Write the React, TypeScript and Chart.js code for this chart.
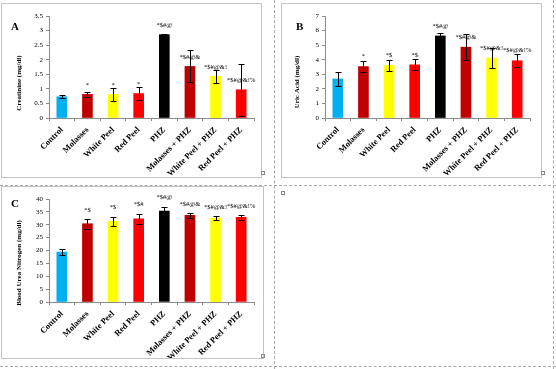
import React, { useEffect, useRef } from "react";
import { Chart, registerables } from "chart.js";

Chart.register(...registerables);

// ---------- data ----------
const categories = [
  "Control",
  "Molasses",
  "White Peel",
  "Red Peel",
  "PHZ",
  "Molasses + PHZ",
  "White Peel + PHZ",
  "Red Peel + PHZ",
];
const barColors = ["#00B0F0", "#C00000", "#FFFF00", "#FF0000", "#000000", "#C00000", "#FFFF00", "#FF0000"];

const creatinineMeans = [0.73, 0.81, 0.81, 0.84, 2.86, 1.77, 1.43, 0.97];
const creatinineErrors = [0.06, 0.09, 0.22, 0.23, 0.01, 0.55, 0.23, 0.9];
const creatinineMarks = ["", "*", "*", "*", "*$#@", "*$#@&", "*$#@&!", "*$#@&!%"];

const uricMeans = [2.68, 3.53, 3.6, 3.65, 5.63, 4.86, 4.12, 3.93];
const uricErrors = [0.47, 0.36, 0.37, 0.37, 0.23, 0.88, 0.66, 0.43];
const uricMarks = ["", "*", "*$", "*$", "*$#@", "*$#@&", "*$#@&!", "*$#@&!%"];

const bunMeans = [19.4, 30.4, 31.3, 32.3, 35.3, 33.7, 32.6, 32.9];
const bunErrors = [1.1, 1.9, 1.9, 2.0, 1.7, 0.9, 0.8, 0.9];
const bunMarks = ["", "*$", "*$", "*$#", "*$#@", "*$#@&", "*$#@&!", "*$#@&!%"];

const SERIF = "'Liberation Serif', 'Times New Roman', serif";
const AXIS_GRAY = "#8c8c8c";

type PanelProps = {
  left: number;
  top: number;
  width: number;
  height: number;
  yAxisWidth: number;
  padTop: number;
  padRight: number;
  xAxisHeight: number;
  max: number;
  step: number;
  means: number[];
  errors: number[];
  marks: string[];
  title: string;
  titleX: number;
  titleY: number;
  markFromError: boolean;
  markOffset: number;
};

function Panel(p: PanelProps) {
  const ref = useRef<HTMLCanvasElement | null>(null);

  useEffect(() => {
    const canvas = ref.current;
    if (!canvas) return;

    const errorBarPlugin = {
      id: "errorBars",
      afterDatasetsDraw(chart: any) {
        const ctx = chart.ctx;
        const ys = chart.scales.y;
        const meta = chart.getDatasetMeta(0);
        ctx.save();
        ctx.strokeStyle = "#000";
        ctx.lineWidth = 1;
        meta.data.forEach((bar: any, i: number) => {
          const x = Math.round(bar.x) + 0.5;
          const yHi = Math.round(ys.getPixelForValue(p.means[i] + p.errors[i])) + 0.5;
          const yLo = Math.round(ys.getPixelForValue(p.means[i] - p.errors[i])) + 0.5;
          ctx.beginPath();
          ctx.moveTo(x, yHi);
          ctx.lineTo(x, yLo);
          ctx.moveTo(x - 3, yHi);
          ctx.lineTo(x + 3, yHi);
          ctx.moveTo(x - 3, yLo);
          ctx.lineTo(x + 3, yLo);
          ctx.stroke();
        });
        ctx.restore();
      },
    };

    const marksPlugin = {
      id: "sigMarks",
      afterDatasetsDraw(chart: any) {
        const ctx = chart.ctx;
        const ys = chart.scales.y;
        const meta = chart.getDatasetMeta(0);
        ctx.save();
        ctx.fillStyle = "#000";
        ctx.font = `6.5px ${SERIF}`;
        ctx.textAlign = "center";
        ctx.textBaseline = "middle";
        meta.data.forEach((bar: any, i: number) => {
          const txt = p.marks[i];
          if (!txt) return;
          const anchor = p.markFromError ? ys.getPixelForValue(p.means[i] + p.errors[i]) : bar.y;
          ctx.fillText(txt, bar.x, anchor - p.markOffset);
        });
        ctx.restore();
      },
    };

    const titlePlugin = {
      id: "yTitle",
      afterDraw(chart: any) {
        const ctx = chart.ctx;
        ctx.save();
        ctx.translate(p.titleX, p.titleY);
        ctx.rotate(-Math.PI / 2);
        ctx.fillStyle = "#000";
        ctx.font = `bold 7px ${SERIF}`;
        ctx.textAlign = "center";
        ctx.textBaseline = "middle";
        ctx.fillText(p.title, 0, 0);
        ctx.restore();
      },
    };

    const chart = new Chart(canvas, {
      type: "bar",
      data: {
        labels: categories,
        datasets: [
          {
            data: p.means,
            backgroundColor: barColors,
            borderWidth: 0,
            barThickness: 10,
          },
        ],
      },
      options: {
        animation: false,
        responsive: false,
        maintainAspectRatio: false,
        devicePixelRatio: 1,
        layout: { padding: { top: p.padTop, right: p.padRight, left: 0, bottom: 0 } },
        plugins: {
          legend: { display: false },
          tooltip: { enabled: false },
          title: { display: false },
        },
        scales: {
          x: {
            grid: {
              display: true,
              drawOnChartArea: false,
              drawTicks: true,
              tickLength: 3,
              color: AXIS_GRAY,
              offset: true,
            },
            border: { color: AXIS_GRAY },
            ticks: {
              autoSkip: false,
              maxRotation: 45,
              minRotation: 45,
              padding: 4,
              color: "#000",
              font: { family: SERIF, size: 8.5, weight: "bold" },
            },
            afterFit: (s: any) => {
              s.height = p.xAxisHeight;
            },
          },
          y: {
            min: 0,
            max: p.max,
            grid: {
              drawOnChartArea: false,
              drawTicks: true,
              tickLength: 3,
              color: AXIS_GRAY,
            },
            border: { color: AXIS_GRAY },
            ticks: {
              stepSize: p.step,
              padding: 3,
              color: "#000",
              font: { family: SERIF, size: 7 },
              callback: (v: any) => String(Number(v)),
            },
            afterFit: (s: any) => {
              s.width = p.yAxisWidth;
            },
          },
        },
      },
      plugins: [errorBarPlugin, marksPlugin, titlePlugin],
    } as any);

    return () => chart.destroy();
  }, []);

  return (
    <canvas
      ref={ref}
      width={p.width}
      height={p.height}
      style={{ position: "absolute", left: p.left, top: p.top, width: p.width, height: p.height }}
    />
  );
}

const boxStyle = (left: number, top: number, width: number, height: number): React.CSSProperties => ({
  position: "absolute",
  left,
  top,
  width,
  height,
  border: "1px solid #c4c4c4",
  boxSizing: "border-box",
});

const dashH = (top: number): React.CSSProperties => ({
  position: "absolute",
  left: 0,
  top,
  width: 556,
  height: 0,
  borderTop: "1px dashed #a8a8a8",
});
const dashV = (left: number): React.CSSProperties => ({
  position: "absolute",
  left,
  top: 0,
  width: 0,
  height: 369,
  borderLeft: "1px dashed #a8a8a8",
});

const glyph = (left: number, top: number): React.CSSProperties => ({
  position: "absolute",
  left,
  top,
  width: 4,
  height: 4,
  border: "1px solid #888",
  boxSizing: "border-box",
});

const letter = (left: number, top: number): React.CSSProperties => ({
  position: "absolute",
  left,
  top,
  font: `bold 11px ${SERIF}`,
  lineHeight: "11px",
  color: "#000",
});

export default function App() {
  return (
    <div
      style={{
        position: "fixed",
        left: 0,
        top: 0,
        width: 556,
        height: 369,
        background: "#fff",
        overflow: "hidden",
      }}
    >
      <div style={dashV(274)} />
      <div style={dashV(553)} />
      <div style={dashH(185)} />
      <div style={dashH(366)} />

      <div style={boxStyle(1, 3, 261, 175)} />
      <div style={boxStyle(281, 3, 261, 175)} />
      <div style={boxStyle(1, 186, 263, 173)} />

      <Panel
        left={1}
        top={3}
        width={260}
        height={174}
        yAxisWidth={48}
        padTop={13}
        padRight={7}
        xAxisHeight={59}
        max={3.5}
        step={0.5}
        means={creatinineMeans}
        errors={creatinineErrors}
        marks={creatinineMarks}
        title="Creatinine (mg/dl)"
        titleX={18}
        titleY={80}
        markFromError={false}
        markOffset={9}
      />
      <Panel
        left={281}
        top={3}
        width={260}
        height={174}
        yAxisWidth={44}
        padTop={13}
        padRight={11}
        xAxisHeight={59}
        max={7}
        step={1}
        means={uricMeans}
        errors={uricErrors}
        marks={uricMarks}
        title="Uric Acid (mg/dl)"
        titleX={16}
        titleY={79}
        markFromError={false}
        markOffset={10}
      />
      <Panel
        left={1}
        top={186}
        width={262}
        height={172}
        yAxisWidth={48}
        padTop={13}
        padRight={9}
        xAxisHeight={56}
        max={40}
        step={5}
        means={bunMeans}
        errors={bunErrors}
        marks={bunMarks}
        title="Blood Urea Nitrogen (mg/dl)"
        titleX={18}
        titleY={77}
        markFromError={true}
        markOffset={9}
      />

      <div style={letter(11, 21)}>A</div>
      <div style={letter(296, 21)}>B</div>
      <div style={letter(11, 198)}>C</div>

      <div style={glyph(261, 171)} />
      <div style={glyph(541, 171)} />
      <div style={glyph(261, 354)} />
      <div style={glyph(281, 191)} />
    </div>
  );
}
